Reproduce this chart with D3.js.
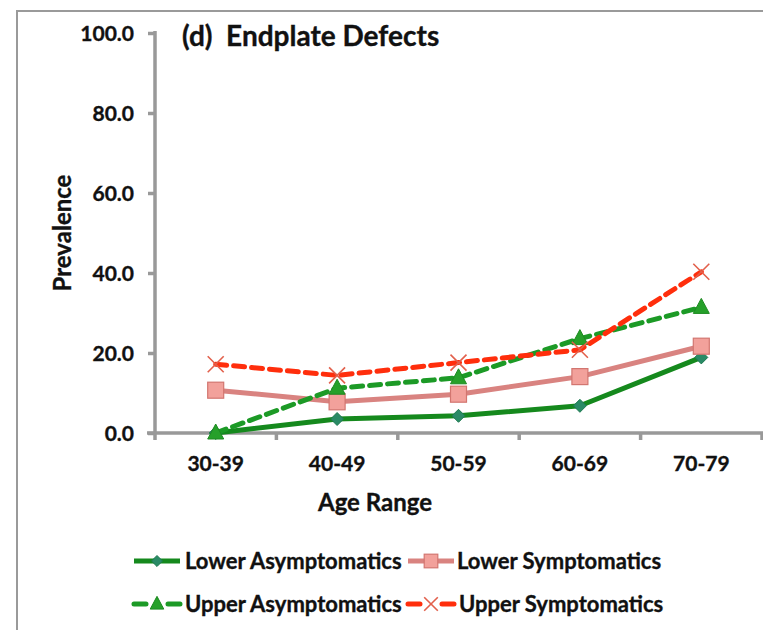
<!DOCTYPE html>
<html>
<head>
<meta charset="utf-8">
<script src="https://cdn.jsdelivr.net/npm/d3@7"></script>
<style>
  html, body { margin: 0; padding: 0; background: #fff; }
  svg { display: block; }
  text { font-family: Lato, "Open Sans", sans-serif; font-weight: 700; fill: #111; stroke: #111; stroke-width: 0.35px; white-space: pre; }
</style>
</head>
<body>
<svg id="chart" width="763" height="630"></svg>
<script>
// ---- data ----
const categories = ["30-39", "40-49", "50-59", "60-69", "70-79"];
const lowerAsymptomatics = [0.0, 3.5, 4.3, 6.8, 18.9];
const lowerSymptomatics  = [10.7, 7.8, 9.7, 14.1, 21.7];
const upperAsymptomatics = [0.0, 11.2, 13.8, 23.6, 31.4];
const upperSymptomatics  = [17.2, 14.4, 17.6, 20.8, 40.3];
const yTicks = [0, 20, 40, 60, 80, 100];
const seriesNames = ["Lower Asymptomatics", "Lower Symptomatics", "Upper Asymptomatics", "Upper Symptomatics"];
const titleText = "(d)  Endplate Defects";
const yTitle = "Prevalence";
const xTitle = "Age Range";

// ---- styles ----
const styles = [
  { line: "#15891d", dash: null,   marker: "diamond",  fill: "#2a8a66", stroke: "#1d7a50" },
  { line: "#d98380", dash: null,   marker: "square",   fill: "#f2a19b", stroke: "#d27670" },
  { line: "#1c9a26", dash: "11,7", marker: "triangle", fill: "#26a02a", stroke: "#1c8a20" },
  { line: "#ff2e0c", dash: "11,7", marker: "x",        fill: "none",    stroke: "#e2604c" }
];
const seriesValues = [lowerAsymptomatics, lowerSymptomatics, upperAsymptomatics, upperSymptomatics];

const svg = d3.select("#chart");

// outer chart border (left and top visible; rest cropped)
svg.append("rect").attr("x", 17).attr("y", 11).attr("width", 900).attr("height", 800)
  .attr("fill", "none").attr("stroke", "#9a9a9a").attr("stroke-width", 2);

const plot = { left: 155, right: 762, top: 33, bottom: 433 };

const x = d3.scaleBand().domain(categories).range([plot.left, plot.right]).paddingInner(0).paddingOuter(0);
const y = d3.scaleLinear().domain([0, 100]).range([plot.bottom, plot.top]);

const axisColor = "#999";

// Y axis
const yAxis = svg.append("g").attr("transform", `translate(${plot.left},0)`)
  .call(d3.axisLeft(y).tickValues(yTicks).tickFormat(d3.format(".1f")).tickSize(7).tickPadding(14));
yAxis.select(".domain").attr("stroke", axisColor).attr("stroke-width", 3.5).attr("d", `M0,${plot.top - 2}V${plot.bottom}`);
yAxis.selectAll(".tick line").attr("stroke", axisColor).attr("stroke-width", 3.5);
yAxis.selectAll(".tick text").style("font-size", "21px").attr("fill", "#111").attr("dy", "0.35em");

// X axis with ticks at band boundaries
const xAxisG = svg.append("g").attr("transform", `translate(0,${plot.bottom})`);
xAxisG.append("line").attr("x1", plot.left - 8).attr("x2", plot.right + 2).attr("y1", 0).attr("y2", 0)
  .attr("stroke", axisColor).attr("stroke-width", 3.5);
const boundaries = categories.map(c => x(c)).concat([x(categories[categories.length - 1]) + x.bandwidth()]);
xAxisG.selectAll("line.tk").data(boundaries).join("line").attr("class", "tk")
  .attr("x1", d => d).attr("x2", d => d).attr("y1", 0).attr("y2", 7)
  .attr("stroke", axisColor).attr("stroke-width", 3.5);
xAxisG.selectAll("text.lbl").data(categories).join("text").attr("class", "lbl")
  .attr("x", d => x(d) + x.bandwidth() / 2).attr("y", 38)
  .attr("text-anchor", "middle").style("font-size", "21px").text(d => d);

// Titles
svg.append("text").attr("x", 182).attr("y", 46).style("font-size", "28px").text(titleText);
svg.append("text").attr("transform", `translate(71,${(plot.top + plot.bottom) / 2}) rotate(-90)`)
  .attr("text-anchor", "middle").style("font-size", "24px").text(yTitle);
svg.append("text").attr("x", 375).attr("y", 511).attr("text-anchor", "middle").style("font-size", "24px").text(xTitle);

// marker drawer
function drawMarker(g, type, cx, cy, st, scale = 1) {
  if (type === "diamond") {
    const r = 6.5 * scale;
    g.append("path").attr("d", `M${cx},${cy - r}L${cx + r},${cy}L${cx},${cy + r}L${cx - r},${cy}Z`)
      .attr("fill", st.fill).attr("stroke", st.stroke).attr("stroke-width", 1);
  } else if (type === "square") {
    const s = 16 * scale;
    g.append("rect").attr("x", cx - s / 2).attr("y", cy - s / 2).attr("width", s).attr("height", s)
      .attr("fill", st.fill).attr("stroke", st.stroke).attr("stroke-width", 1.2);
  } else if (type === "triangle") {
    const h = 15 * scale, w = 16 * scale;
    g.append("path").attr("d", `M${cx},${cy - h * 0.6}L${cx + w / 2},${cy + h * 0.4}L${cx - w / 2},${cy + h * 0.4}Z`)
      .attr("fill", st.fill).attr("stroke", st.stroke).attr("stroke-width", 1);
  } else if (type === "x") {
    const r = 8 * scale;
    g.append("path").attr("d", `M${cx - r},${cy - r}L${cx + r},${cy + r}M${cx - r},${cy + r}L${cx + r},${cy - r}`)
      .attr("fill", "none").attr("stroke", st.stroke).attr("stroke-width", 1.6);
  }
}

// series
const line = d3.line().x((d, i) => x(categories[i]) + x.bandwidth() / 2).y(d => y(d));
seriesValues.forEach((vals, si) => {
  const st = styles[si];
  const g = svg.append("g");
  g.append("path").datum(vals).attr("d", line).attr("fill", "none")
    .attr("stroke", st.line).attr("stroke-width", 5)
    .attr("stroke-linejoin", "round").attr("stroke-linecap", st.dash ? "round" : "butt")
    .attr("stroke-dasharray", st.dash);
  vals.forEach((v, i) => drawMarker(g, st.marker, x(categories[i]) + x.bandwidth() / 2, y(v), st));
});

// legend
const legendItems = [
  { sx: 134, tx: 185, y: 561 },
  { sx: 408, tx: 457, y: 561 },
  { sx: 134, tx: 185, y: 604 },
  { sx: 408, tx: 459, y: 604 }
];
legendItems.forEach((li, i) => {
  const st = styles[i];
  const g = svg.append("g");
  g.append("line").attr("x1", li.sx).attr("x2", li.sx + 46).attr("y1", li.y).attr("y2", li.y)
    .attr("stroke", st.line).attr("stroke-width", 5).attr("stroke-linecap", st.dash ? "round" : "butt")
    .attr("stroke-dasharray", st.dash ? "12,22" : null);
  drawMarker(g, st.marker, li.sx + 23, li.y, st, 0.85);
  g.append("text").attr("x", li.tx).attr("y", li.y + 7.5).style("font-size", "22px").text(seriesNames[i]);
});
</script>
</body>
</html>
